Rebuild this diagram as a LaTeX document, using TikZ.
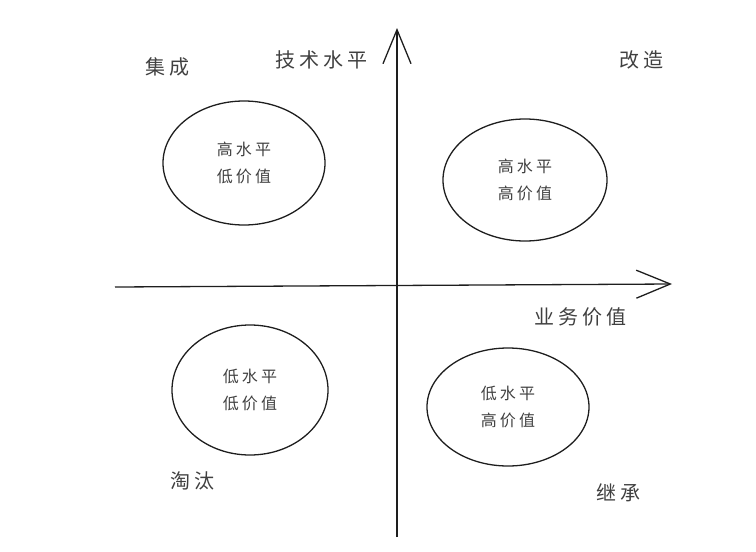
\documentclass[tikz,border=0pt]{standalone}
\usepackage{fontspec}
\setmainfont{Noto Sans CJK SC}
\newfontfamily\handfont[LetterSpace=20]{Noto Sans CJK SC}
\usepackage{tikz}
\usetikzlibrary{positioning,arrows.meta,shapes.geometric}
\definecolor{ink}{RGB}{30,30,30}
\tikzset{
  quad/.style={draw=ink, ellipse, line width=1.3pt, align=center,
               inner sep=0pt, font=\handfont\fontsize{16}{27}\selectfont, text=ink!85},
  tag/.style={font=\handfont\fontsize{20}{22}\selectfont, text=ink!85},
  axis/.style={-{Straight Barb[length=34pt, width=28pt, line width=1.3pt]}, line width=1.3pt, draw=ink},
}
\begin{document}
\begin{tikzpicture}[x=1pt, y=-1pt]
  \useasboundingbox (0,0) rectangle (756,552);
  % axes
  \coordinate (xs) at (115,287);
  \coordinate (xe) at (672,284);
  \coordinate (ys) at (397,537);
  \coordinate (ye) at (397,28);
  \draw[axis] (xs) -- (xe);
  \draw[axis] (ys) -- (ye);
  % quadrants
  \node[quad, minimum width=162pt, minimum height=124pt] (hl) at (244,163) {高水平\\低价值};
  \node[quad, minimum width=164pt, minimum height=122pt] (hh) at (525,180) {高水平\\高价值};
  \node[quad, minimum width=156pt, minimum height=130pt] (ll) at (250,390) {低水平\\低价值};
  \node[quad, minimum width=162pt, minimum height=118pt] (lh) at (508,407) {低水平\\高价值};
  % labels
  \node[tag] (jicheng) at (167,67) {集成};
  \node[tag] (jishu)   at (321,60) {技术水平};
  \node[tag] (gaizao)  at (641,60) {改造};
  \node[tag] (yewu)    at (580,317) {业务价值};
  \node[tag] (taotai)  at (192,481) {淘汰};
  \node[tag] (jicheng2) at (618,493) {继承};
\end{tikzpicture}
\end{document}
